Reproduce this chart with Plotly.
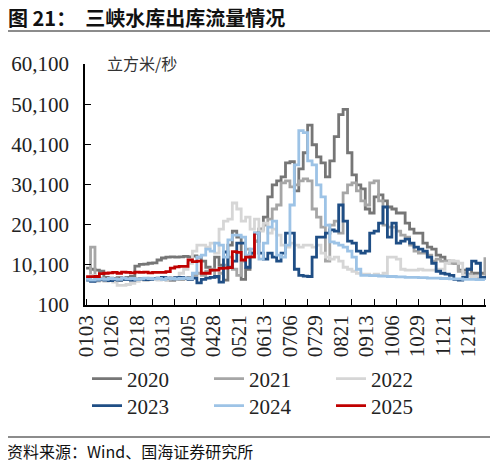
import pandas as pd
import plotly.graph_objects as go

# 横轴：从0103起每4天取一个点（日序号），刻度标签每23天一个
TICK_LABELS = ["0103", "0126", "0218", "0313", "0405", "0428", "0521", "0613",
               "0706", "0729", "0821", "0913", "1006", "1029", "1121", "1214"]
SAMPLE_DAYS = list(range(0, 361, 4))

YEARS = ["2020", "2021", "2022", "2023", "2024", "2025"]
COLORS = ["#767676", "#a6a6a6", "#d6d6d6", "#1f4e85", "#9dc3e6", "#c00000"]

# 出库流量（立方米/秒）
flow_2020 = [9300, 9000, 8800, 8500, 7000, 6800, 6700, 6900, 6800, 7000,
             7200, 9800, 10200, 10300, 10500, 10600, 11300, 11800, 12000, 12100,
             12000, 12100, 12200, 12100, 12300, 12000, 11000, 9500, 8800, 12000,
             10000, 6300, 15000, 18500, 17000, 6500, 9000, 13000, 16000, 19000,
             22000, 27000, 30000, 31000, 32000, 35500, 35800, 28500, 34000, 38000,
             44900, 40000, 37000, 35500, 32000, 36000, 42000, 47500, 48800, 38000,
             32500, 30000, 29000, 24000, 23000, 27000, 27500, 26000, 24500, 24000,
             23000, 23000, 20500, 19000, 18000, 18000, 15500, 14500, 14000, 12500,
             12000, 11000, 11000, 10500, 8800, 8800, 9000, 8000, 8000, 8000,
             8000]
flow_2021 = [6800, 14500, 7000, 6800, 6500, 6300, 6500, 6200, 6400, 6500,
             6300, 6600, 6500, 6400, 6500, 6600, 6400, 6500, 6300, 6200,
             6500, 6400, 6600, 7000, 7500, 8000, 7500, 8500, 9000, 7000,
             8000, 10000, 12000, 9000, 7500, 11000, 14000, 12000, 16000, 19000,
             20000, 21500, 24000, 25000, 30500, 31000, 29500, 30000, 31000, 31500,
             31000, 24000, 22000, 19500, 11000, 20000, 21000, 18000, 28000, 30000,
             30500, 28500, 26000, 25000, 30500, 31000, 26000, 20000, 19500, 19500,
             18500, 17500, 17000, 15000, 13500, 13000, 13000, 12500, 11000, 11500,
             11000, 11000, 10500, 10500, 8500, 8000, 7800, 7000, 6800, 6800,
             12000]
flow_2022 = [6500, 7500, 6000, 6200, 6000, 6300, 5800, 5000, 5000, 5200,
             5500, 6000, 6500, 6200, 6800, 6500, 6300, 6800, 6500, 7000,
             7000, 8000, 9000, 10500, 13500, 15000, 15000, 14500, 15500, 13000,
             19000, 21000, 21500, 25500, 24000, 21000, 22000, 19000, 21500, 18500,
             20500, 18000, 19000, 17500, 15000, 14500, 15500, 15000, 14500, 15000,
             15000, 14500, 15000, 13000, 12000, 11500, 12000, 11000, 9500, 9000,
             8500, 8000, 7800, 7800, 7500, 7800, 7500, 8000, 12000, 12000,
             11500, 9000, 8800, 8800, 8800, 9000, 8800, 8800, 8800, 9000,
             9000, 10500, 11000, 11000, 10500, 7500, 7300, 7200, 7300, 7200,
             7200]
flow_2023 = [6300, 6000, 6300, 6500, 6300, 6200, 6400, 6300, 6500, 6400,
             6300, 6500, 6600, 6400, 6500, 6700, 6800, 7000, 6800, 6600,
             6900, 7000, 6800, 6500, 6800, 5600, 6500, 6800, 7000, 7200,
             5800, 13300, 9500, 11000, 15500, 15500, 9500, 13000, 18000, 13000,
             11500, 13000, 12000, 11000, 13000, 18000, 18000, 9000, 7500, 7300,
             7200, 12000, 17000, 17000, 18000, 18800, 18500, 25000, 21000, 16000,
             15500, 13500, 13000, 13500, 18000, 18500, 20500, 24500, 17000, 20500,
             15500, 16000, 16500, 15500, 14500, 14000, 13500, 12000, 10500, 8500,
             8000, 7800, 7500, 6500, 6300, 7000, 9000, 11000, 10500, 7000,
             6300]
flow_2024 = [6500, 6300, 6500, 6600, 6500, 6700, 6600, 6500, 6800, 6600,
             6700, 6500, 6600, 6800, 6700, 6600, 6700, 6500, 6800, 6700,
             6600, 6700, 6800, 6700, 8000, 12000, 12500, 14000, 13500, 15500,
             15000, 12000, 16300, 17500, 17500, 17000, 12500, 14000, 18000, 11500,
             15500, 19500, 21000, 12500, 12000, 15000, 25000, 35000, 43500, 43000,
             36000, 35000, 30000, 27000, 20000, 15800, 15500, 15000, 14500, 13500,
             12000, 9000, 7500, 7500, 7400, 7400, 7300, 7300, 7200, 7200,
             7100, 7100, 7000, 7000, 7000, 6900, 6900, 6800, 6800, 6800,
             6700, 6700, 6600, 6600, 6600, 6500, 6500, 6500, 6400, 6400,
             6300]
flow_2025 = [7150, 7150, 7200, 7900, 8000, 8100, 8200, 8000, 8300, 8200,
             8100, 8300, 8200, 8300, 8100, 8200, 8200, 8200, 8400, 9300,
             9600, 9700, 9700, 11300, 10900, 11000, 8000, 8000, 8800, 8800,
             9200, 9300, 9400, 13400, 13200, 11300, 12000, 12100, 17900]

SERIES = [flow_2020, flow_2021, flow_2022, flow_2023, flow_2024, flow_2025]

start = pd.Timestamp("2021-01-03")
tick_pos = [(pd.Timestamp("2021-%s-%s" % (t[:2], t[2:])) - start).days for t in TICK_LABELS]

fig = go.Figure()
for i, (year, values) in enumerate(zip(YEARS, SERIES)):
    fig.add_trace(go.Scatter(
        x=SAMPLE_DAYS[:len(values)],
        y=values,
        name=year,
        mode="lines",
        line=dict(color=COLORS[i], width=2.8, shape="hv"),
        legend="legend" if i < 3 else "legend2",
    ))

serif = "Liberation Serif, Times New Roman, serif"
cjk = "Noto Sans CJK SC"

legend_style = dict(
    orientation="h", x=0.005, xanchor="left", yanchor="middle",
    font=dict(family=serif, size=21, color="#222"),
    entrywidth=77, entrywidthmode="pixels", itemwidth=30,
    bgcolor="rgba(0,0,0,0)",
)

# 页面自带约8px的边距，画布相应缩小
fig.update_layout(
    width=490, height=456,
    margin=dict(l=77, r=12, t=56, b=159, autoexpand=False),
    paper_bgcolor="white", plot_bgcolor="white",
    showlegend=True,
    legend=dict(legend_style, y=-0.307),
    legend2=dict(legend_style, y=-0.419),
    xaxis=dict(
        range=[-1, 361], automargin=False,
        tickmode="array", tickvals=tick_pos, ticktext=TICK_LABELS,
        tickangle=-90, ticks="",
        tickfont=dict(family=serif, size=21, color="#222"),
        showgrid=False, zeroline=False,
        showline=True, linecolor="black", linewidth=1.5,
        minor=dict(tickmode="linear", tick0=0, dtick=20, ticks="inside",
                   ticklen=6, tickcolor="black", tickwidth=1.2, showgrid=False),
    ),
    yaxis=dict(
        range=[100, 60100], automargin=False,
        tickmode="array", tickvals=list(range(100, 60101, 10000)),
        tickformat=",d", ticks="inside", ticklen=6, tickcolor="black", tickwidth=1.2,
        tickfont=dict(family=serif, size=21, color="#222"),
        ticklabelstandoff=10,
        showgrid=False, zeroline=False,
        showline=True, linecolor="black", linewidth=1.5,
    ),
)

fig.add_annotation(
    text="<b>图 21：  三峡水库出库流量情况</b>",
    xref="paper", yref="paper", x=-0.196, y=1.193,
    xanchor="left", yanchor="middle", showarrow=False,
    font=dict(family=cjk, size=20, color="#111"),
)
fig.add_annotation(
    text="立方米/秒",
    xref="paper", yref="paper", x=0.051, y=1.004,
    xanchor="left", yanchor="middle", showarrow=False,
    font=dict(family=cjk, size=16, color="#333"),
)
fig.add_annotation(
    text="资料来源：Wind、国海证券研究所",
    xref="paper", yref="paper", x=-0.2, y=-0.606,
    xanchor="left", yanchor="middle", showarrow=False,
    font=dict(family=cjk, size=16, color="#111"),
)
fig.add_shape(type="line", xref="paper", yref="paper",
              x0=-0.2036, x1=1.038, y0=1.137, y1=1.137,
              line=dict(color="#666", width=1.5))
fig.add_shape(type="line", xref="paper", yref="paper",
              x0=-0.2036, x1=1.038, y0=-0.548, y1=-0.548,
              line=dict(color="#666", width=1.5))

fig.write_html("out.html")
